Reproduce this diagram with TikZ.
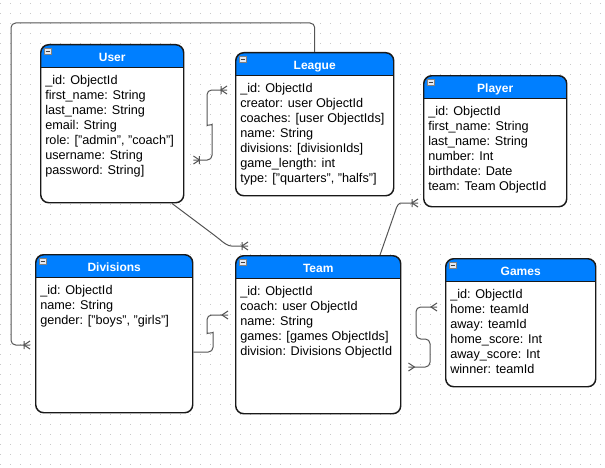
\documentclass[tikz,border=0pt]{standalone}
\usepackage{fontspec}
\setmainfont{Liberation Sans}
\usepackage{tikz}
\usetikzlibrary{
  positioning,
  arrows.meta,
  calc
}
\definecolor{headblue}{RGB}{0,127,255}
\definecolor{boxborder}{RGB}{25,25,25}
\definecolor{linkgray}{RGB}{85,85,85}
\definecolor{griddot}{RGB}{200,200,200}
\definecolor{iconbg}{RGB}{228,232,240}

% crow's foot (many)
\pgfdeclarearrow{
  name = crow,
  parameters = {\the\pgfarrowlength,\the\pgfarrowwidth},
  setup code = {
    \pgfarrowssettipend{0pt}
    \pgfarrowssetlineend{0pt}
    \pgfarrowssetbackend{-\pgfarrowlength}
    \pgfarrowssavethe\pgfarrowlength
    \pgfarrowssavethe\pgfarrowwidth
  },
  drawing code = {
    \pgfsetdash{}{0pt}
    \pgfpathmoveto{\pgfqpoint{0pt}{.5\pgfarrowwidth}}
    \pgfpathlineto{\pgfqpoint{-\pgfarrowlength}{0pt}}
    \pgfpathlineto{\pgfqpoint{0pt}{-.5\pgfarrowwidth}}
    \pgfusepathqstroke
  },
  defaults = {length=4.5pt, width=6pt}
}
% crow's foot with bar (one to many)
\pgfdeclarearrow{
  name = crowbar,
  parameters = {\the\pgfarrowlength,\the\pgfarrowwidth},
  setup code = {
    \pgfarrowssettipend{0pt}
    \pgfarrowssetlineend{0pt}
    \pgfarrowssetbackend{-\pgfarrowlength}
    \pgfarrowssavethe\pgfarrowlength
    \pgfarrowssavethe\pgfarrowwidth
  },
  drawing code = {
    \pgfsetdash{}{0pt}
    \pgfpathmoveto{\pgfqpoint{0pt}{.5\pgfarrowwidth}}
    \pgfpathlineto{\pgfqpoint{-\pgfarrowlength}{0pt}}
    \pgfpathlineto{\pgfqpoint{0pt}{-.5\pgfarrowwidth}}
    \pgfpathmoveto{\pgfqpoint{-\pgfarrowlength}{.5\pgfarrowwidth}}
    \pgfpathlineto{\pgfqpoint{-\pgfarrowlength}{-.5\pgfarrowwidth}}
    \pgfusepathqstroke
  },
  defaults = {length=4.5pt, width=6pt}
}

\tikzset{
  entitybox/.style={
    draw=boxborder, fill=white, line width=1.1pt, rounded corners=6pt,
    anchor=north west, inner sep=0pt,
    path picture={
      \fill[headblue, sharp corners] (path picture bounding box.north west)
        rectangle ([yshift=-17.25pt]path picture bounding box.north east);
      \draw[boxborder, line width=1.1pt, sharp corners]
        ([yshift=-17.25pt]path picture bounding box.north west)
        -- ([yshift=-17.25pt]path picture bounding box.north east);
    }
  },
  headtext/.style={
    text=white, font=\fontsize{9}{11}\selectfont\bfseries,
    inner sep=0pt, anchor=base
  },
  fieldtext/.style={
    font=\fontsize{9.5}{11.25}\selectfont, align=left,
    anchor=north west, inner sep=0pt
  },
  minbox/.style={
    draw=black!50, fill=iconbg, line width=0.4pt, rounded corners=0pt,
    minimum width=5pt, minimum height=4.5pt, inner sep=0pt,
    path picture={
      \draw[black!75, line width=0.6pt]
        ([xshift=1pt]path picture bounding box.west)
        -- ([xshift=-1pt]path picture bounding box.east);
    }
  },
  relline/.style={
    draw=linkgray, line width=0.75pt, rounded corners=3.5pt
  },
  gridline/.style={
    draw=griddot, line width=0.75pt, dash pattern=on 0.75pt off 6.75pt
  }
}

\begin{document}
\begin{tikzpicture}[x=0.75pt, y=-0.75pt]
  \useasboundingbox (0,0) rectangle (605,467);

  % background grid
  \foreach \gy in {4,14,...,464}
    \draw[gridline] (0,\gy) -- (605,\gy);

  % entities
  \node[entitybox, minimum width=107.25pt, minimum height=118.5pt] (user) at (40,44) {};
  \node[minbox] (usermin) at ([shift={(7.5,7.5)}]user.north west) {};
  \node[headtext] (usertitle) at ([shift={(0,17.3)}]user.north) {User};
  \node[fieldtext] (userfields) at ([shift={(5,31)}]user.north west) {
    \_id: ObjectId\\
    first\_name: String\\
    last\_name: String\\
    email: String\\
    role: ["admin", "coach"]\\
    username: String\\
    password: String]
  };

  \node[entitybox, minimum width=118.5pt, minimum height=107.25pt] (league) at (235,52) {};
  \node[minbox] (leaguemin) at ([shift={(7.5,7.5)}]league.north west) {};
  \node[headtext] (leaguetitle) at ([shift={(0,17.3)}]league.north) {League};
  \node[fieldtext] (leaguefields) at ([shift={(5,31)}]league.north west) {
    \_id: ObjectId\\
    creator: user ObjectId\\
    coaches: [user ObjectIds]\\
    name: String\\
    divisions: [divisionIds]\\
    game\_length: int\\
    type: ["quarters", "halfs"]
  };

  \node[entitybox, minimum width=107.25pt, minimum height=98.25pt] (player) at (423,75) {};
  \node[minbox] (playermin) at ([shift={(7.5,7.5)}]player.north west) {};
  \node[headtext] (playertitle) at ([shift={(0,17.3)}]player.north) {Player};
  \node[fieldtext] (playerfields) at ([shift={(5,31)}]player.north west) {
    \_id: ObjectId\\
    first\_name: String\\
    last\_name: String\\
    number: Int\\
    birthdate: Date\\
    team: Team ObjectId
  };

  \node[entitybox, minimum width=117.75pt, minimum height=118.5pt] (divisions) at (35,254) {};
  \node[minbox] (divisionsmin) at ([shift={(7.5,7.5)}]divisions.north west) {};
  \node[headtext] (divisionstitle) at ([shift={(0,17.3)}]divisions.north) {Divisions};
  \node[fieldtext] (divisionsfields) at ([shift={(5,31)}]divisions.north west) {
    \_id: ObjectId\\
    name: String\\
    gender: ["boys", "girls"]
  };

  \node[entitybox, minimum width=123.75pt, minimum height=118.5pt] (team) at (235,255) {};
  \node[minbox] (teammin) at ([shift={(7.5,7.5)}]team.north west) {};
  \node[headtext] (teamtitle) at ([shift={(0,17.3)}]team.north) {Team};
  \node[fieldtext] (teamfields) at ([shift={(5,31)}]team.north west) {
    \_id: ObjectId\\
    coach: user ObjectId\\
    name: String\\
    games: [games ObjectIds]\\
    division: Divisions ObjectId
  };

  \node[entitybox, minimum width=112.5pt, minimum height=96pt] (games) at (445,258) {};
  \node[minbox] (gamesmin) at ([shift={(7.5,7.5)}]games.north west) {};
  \node[headtext] (gamestitle) at ([shift={(0,17.3)}]games.north) {Games};
  \node[fieldtext] (gamesfields) at ([shift={(5,31)}]games.north west) {
    \_id: ObjectId\\
    home: teamId\\
    away: teamId\\
    home\_score: Int\\
    away\_score: Int\\
    winner: teamId
  };

  % relations
  \coordinate (teamtop) at (248,246);

  \draw[relline, {crowbar}-{crowbar}, shorten <=6.75pt, shorten >=6pt]
    (user.east |- 0,160) -- (212,160) -- (212,129)
    to[out=90, in=-90] (207,121) -- (207,90) -- (league.west |- 0,90);
  \draw[relline, -{crowbar}]
    (user.south -| 172,0) -- (218,238)
    .. controls (224,243) and (228,246) .. (236,246) -- (teamtop);
  \draw[relline, -{crowbar}, shorten >=3.75pt]
    (team.north -| 380,0) -- (395,212)
    .. controls (397,206) and (399,203) .. (405,203) -- (player.west |- 0,203);
  \draw[relline, -{crowbar}, shorten >=3.75pt]
    (league.north) |- (11,23) |- (divisions.west |- 0,345);
  \draw[relline, -{crow}, shorten >=5.25pt]
    (divisions.east |- 0,352) -- (213,352) -- (213,337)
    to[out=90, in=-90] (207,329) -- (207,315) -- (team.west |- 0,315);
  \draw[relline, {crow}-{crow}, shorten <=5.25pt, shorten >=6pt]
    (team.east |- 0,367) -- (430,367) -- (430,339) -- (416,339)
    -- (416,307) -- (games.west |- 0,307);

\end{tikzpicture}
\end{document}
